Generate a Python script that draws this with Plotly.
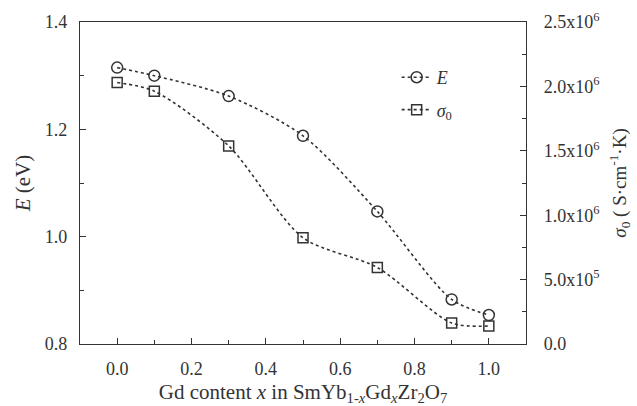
import plotly.graph_objects as go

x_vals = [0.0, 0.1, 0.3, 0.5, 0.7, 0.9, 1.0]
E_vals = [1.315, 1.300, 1.262, 1.188, 1.047, 0.883, 0.854]
sigma_vals = [2.03e6, 1.963e6, 1.538e6, 0.825e6, 0.594e6, 0.163e6, 0.14e6]

y2_tickvals = [0, 5e5, 1e6, 1.5e6, 2e6, 2.5e6]
y2_ticktext = ["0.0", "5.0x10<sup>5</sup>", "1.0x10<sup>6</sup>", "1.5x10<sup>6</sup>",
               "2.0x10<sup>6</sup>", "2.5x10<sup>6</sup>"]

FONT = "Liberation Serif, Times New Roman, serif"
INK = "#333333"

fig = go.Figure()
fig.add_trace(go.Scatter(
    x=x_vals, y=E_vals, name="<i>E</i>", mode="lines+markers",
    line=dict(color=INK, width=1.6, dash="dot", shape="spline", smoothing=0.8),
    marker=dict(symbol="circle-open", size=11, color=INK, line=dict(width=1.5, color=INK)),
    legendgroup="a",
))
fig.add_trace(go.Scatter(
    x=x_vals, y=sigma_vals, name="<i>σ</i><sub>0</sub>", mode="lines+markers", yaxis="y2",
    line=dict(color=INK, width=1.6, dash="dot", shape="spline", smoothing=0.8),
    marker=dict(symbol="square-open", size=10, color=INK, line=dict(width=1.5, color=INK)),
    legendgroup="b",
))

axis_common = dict(
    showline=True, linecolor=INK, linewidth=1.2, ticks="inside", ticklen=6,
    tickcolor=INK, tickwidth=1.2, showgrid=False, zeroline=False, automargin=False,
    tickfont=dict(family=FONT, size=18, color=INK),
)

fig.update_layout(
    width=637, height=406,
    margin=dict(l=80, r=111, t=22, b=62),
    paper_bgcolor="white", plot_bgcolor="white",
    font=dict(family=FONT, color=INK),
    showlegend=True,
    legend=dict(x=0.71, y=0.885, xanchor="left", yanchor="top",
                font=dict(family=FONT, size=18, color=INK),
                bgcolor="rgba(0,0,0,0)", tracegroupgap=6),
    xaxis=dict(
        range=[-0.1, 1.1], tickvals=[0, 0.2, 0.4, 0.6, 0.8, 1.0],
        ticktext=["0.0", "0.2", "0.4", "0.6", "0.8", "1.0"],
        minor=dict(dtick=0.1, tick0=0, ticks="inside", ticklen=4, tickcolor=INK, tickwidth=1.2),
        mirror=True, ticklabelstandoff=8,
        title=dict(text="Gd content <i>x</i> in SmYb<sub>1-<i>x</i></sub>Gd<sub><i>x</i></sub>Zr<sub>2</sub>O<sub>7</sub>",
                   font=dict(family=FONT, size=21, color=INK), standoff=8),
        **axis_common,
    ),
    yaxis=dict(
        range=[0.8, 1.4], tickvals=[0.8, 1.0, 1.2, 1.4],
        ticktext=["0.8", "1.0", "1.2", "1.4"],
        minor=dict(dtick=0.1, tick0=0.8, ticks="inside", ticklen=4, tickcolor=INK, tickwidth=1.2),
        ticklabelstandoff=8,
        title=dict(text="<i>E</i> (eV)", font=dict(family=FONT, size=21, color=INK), standoff=8),
        **axis_common,
    ),
    yaxis2=dict(
        overlaying="y", side="right", range=[0, 2.5e6],
        tickvals=y2_tickvals, ticktext=y2_ticktext,
        minor=dict(dtick=2.5e5, tick0=0, ticks="inside", ticklen=4, tickcolor=INK, tickwidth=1.2),
        ticklabelstandoff=13,
        title=dict(text="<i>σ</i><sub>0</sub> ( S·cm<sup>-1</sup>·K)", font=dict(family=FONT, size=19, color=INK), standoff=14),
        **axis_common,
    ),
)

fig.write_html("out.html")
